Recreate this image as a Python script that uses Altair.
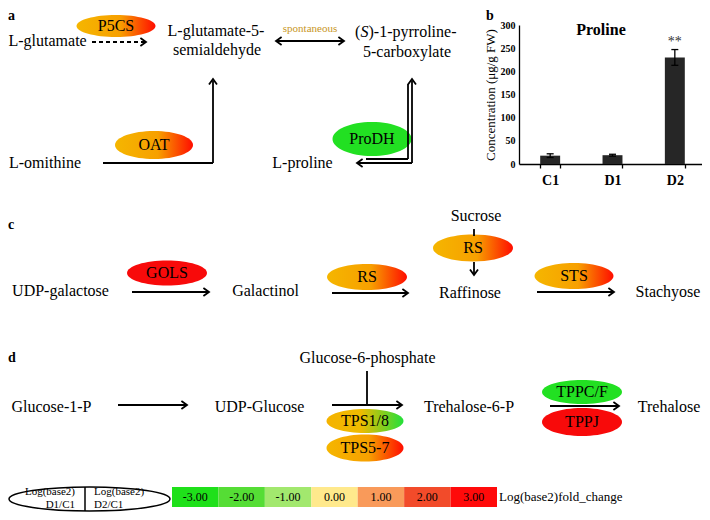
import altair as alt
import pandas as pd

FONT = "Liberation Serif"

# ---------------- panel b : proline content ----------------
groups = ["C1", "D1", "D2"]
proline = [18, 19, 230]
proline_err = [4, 2, 17]
signif = ["", "", "**"]

# ---------------- colour key ----------------
fold_values = ["-3.00", "-2.00", "-1.00", "0.00", "1.00", "2.00", "3.00"]
fold_colors = ["#1fe01a", "#55dd35", "#a2e86e", "#ffe98c", "#f99a5a", "#f24b2a", "#ff0a0a"]

# ---------------- diagram labels (text, x, y) ----------------
metabolites_c = [
    ("L-glutamate-5-", 216, 31), ("semialdehyde", 217, 50), ("5-carboxylate", 407, 52),
    ("L-proline", 302.5, 163), ("UDP-galactose", 60.5, 291), ("Galactinol", 265.5, 291),
    ("Sucrose", 476, 216), ("Raffinose", 470, 293), ("Stachyose", 668, 292),
    ("Glucose-1-P", 51.5, 407), ("UDP-Glucose", 259.5, 407), ("Glucose-6-phosphate", 367.5, 358),
    ("Trehalose-6-P", 469, 407), ("Trehalose", 669, 407),
]
metabolites_l = [("L-glutamate", 8.5, 41), ("L-omithine", 9, 163), ("(", 355, 31.5), (")-1-pyrroline-", 368.5, 31.5)]
italic_l = [("S", 360.5, 31.5)]
panel_letters = [("a", 8, 16), ("b", 486, 16), ("c", 8, 225), ("d", 8, 358)]

# enzymes: name, x, y, w, h, fill kind
enzymes = [
    ("P5CS", 116, 26, 79, 22, "OR"), ("OAT", 154, 145, 78, 28, "OR"), ("ProDH", 372, 139, 79, 34, "G"),
    ("GOLS", 167, 273, 80, 25, "R"), ("RS", 367, 277, 80, 26, "OR"), ("RS", 473, 248, 80, 27, "OR"),
    ("STS", 574, 276, 79, 26, "OR"), ("TPS1/8", 365, 421, 77, 24, "OG"), ("TPS5-7", 365, 448, 77, 27, "OR"),
    ("TPPC/F", 582, 392, 80, 24, "G"), ("TPPJ", 582, 422, 80, 28, "R"),
]

segments = [
    (103, 163, 213, 163), (213, 163, 213, 81), (276, 41, 344, 41),
    (358, 163, 412, 163), (412, 163, 412, 81), (366, 159, 408, 159), (408, 159, 408, 84),
    (132, 292, 208, 292), (332, 293, 407, 293), (474, 229, 474, 236), (474, 262, 474, 274),
    (537, 292, 613, 292), (118, 405, 186, 405), (332, 405, 401, 405), (367, 371, 367, 405),
    (550, 406, 618, 406),
]
dashed = [(92, 42, 145, 42)]
heads = [
    (146, 42, 0), (213, 79, 270), (276, 41, 180), (344, 41, 0), (357, 163, 180), (412, 79, 270),
    (209, 292, 0), (408, 293, 0), (474, 275, 90), (614, 292, 0), (187, 405, 0), (402, 405, 0),
    (619, 406, 0),
]


def ellipse_path(w, h):
    r = h / w
    k = 0.5523
    return (f"M 1 0 C 1 {k*r:.4f} {k:.4f} {r:.4f} 0 {r:.4f} "
            f"C {-k:.4f} {r:.4f} -1 {k*r:.4f} -1 0 "
            f"C -1 {-k*r:.4f} {-k:.4f} {-r:.4f} 0 {-r:.4f} "
            f"C {k:.4f} {-r:.4f} 1 {-k*r:.4f} 1 0 Z")


XS = alt.Scale(domain=[8, 702], nice=False, zero=False)
YS = alt.Scale(domain=[8, 512], nice=False, zero=False, reverse=True)


def px(f):
    return alt.X(f, type="quantitative", scale=XS, axis=None)


def py(f):
    return alt.Y(f, type="quantitative", scale=YS, axis=None)


def grad(stops):
    return alt.LinearGradient(gradient="linear", x1=0, x2=1, y1=0, y2=0,
                              stops=[alt.GradientStop(offset=o, color=c) for o, c in stops])


fills = {
    "OR": grad([(0, "#f5b600"), (0.55, "#f7a000"), (1, "#ff0d00")]),
    "OG": grad([(0, "#f5b300"), (0.45, "#eebb00"), (1, "#22e03a")]),
    "R": "#f80a0a",
    "G": "#22e022",
}

enz_df = pd.DataFrame(enzymes, columns=["name", "x", "y", "w", "h", "kind"])
enz_df["size"] = enz_df["w"] ** 2
enz_df["shape"] = [ellipse_path(w, h) for w, h in zip(enz_df["w"], enz_df["h"])]

layers = []
for kind, fill in fills.items():
    layers.append(
        alt.Chart(enz_df).transform_filter(alt.datum.kind == kind)
        .mark_point(filled=True, fill=fill, opacity=1, strokeWidth=0)
        .encode(x=px("x"), y=py("y"), shape=alt.Shape("shape:N", scale=None),
                size=alt.Size("size:Q", scale=None))
    )

seg_df = pd.DataFrame(segments, columns=["x1", "y1", "x2", "y2"])
dash_df = pd.DataFrame(dashed, columns=["x1", "y1", "x2", "y2"])
head_df = pd.DataFrame(heads, columns=["x", "y", "a"])

layers.append(alt.Chart(seg_df).mark_rule(color="black", strokeWidth=1.8)
              .encode(x=px("x1"), y=py("y1"), x2="x2:Q", y2="y2:Q"))
layers.append(alt.Chart(dash_df).mark_rule(color="black", strokeWidth=1.8, strokeDash=[4, 3])
              .encode(x=px("x1"), y=py("y1"), x2="x2:Q", y2="y2:Q"))
layers.append(alt.Chart(head_df).mark_point(filled=False, stroke="black", strokeWidth=1.8, opacity=1,
                                            shape="M -1.4 -1 L 0 0 L -1.4 1", size=64, strokeJoin="miter")
              .encode(x=px("x"), y=py("y"), angle=alt.Angle("a:Q", scale=None)))

# text tables
txt_c = [(t, x, y, 16, "black") for t, x, y in metabolites_c]
txt_c += [(n, x, y, 16, "black") for n, x, y, w, h, k in enzymes]
txt_c.append(("spontaneous", 310, 29, 11, "#c8961e"))
c_df = pd.DataFrame(txt_c, columns=["t", "x", "y", "s", "col"])
l_df = pd.DataFrame([(t, x, y, 16) for t, x, y in metabolites_l] +
                    [("Log(base2)", 94, 492, 11), ("D2/C1", 94, 505, 11),
                     ("Log(base2)fold_change", 499, 497, 13)], columns=["t", "x", "y", "s"])
r_df = pd.DataFrame([("Log(base2)", 75, 492, 11), ("D1/C1", 75, 505, 11)], columns=["t", "x", "y", "s"])
i_df = pd.DataFrame([(t, x, y, 16) for t, x, y in italic_l], columns=["t", "x", "y", "s"])
b_df = pd.DataFrame([(t, x, y, 14) for t, x, y in panel_letters], columns=["t", "x", "y", "s"])
bc_df = pd.DataFrame([("Proline", 601, 30, 16)], columns=["t", "x", "y", "s"])

layers.append(alt.Chart(c_df).mark_text(font=FONT, align="center", baseline="middle")
              .encode(x=px("x"), y=py("y"), text="t:N", size=alt.Size("s:Q", scale=None),
                      color=alt.Color("col:N", scale=None)))
layers.append(alt.Chart(l_df).mark_text(font=FONT, align="left", baseline="middle", color="black")
              .encode(x=px("x"), y=py("y"), text="t:N", size=alt.Size("s:Q", scale=None)))
layers.append(alt.Chart(r_df).mark_text(font=FONT, align="right", baseline="middle", color="black")
              .encode(x=px("x"), y=py("y"), text="t:N", size=alt.Size("s:Q", scale=None)))
layers.append(alt.Chart(i_df).mark_text(font=FONT, align="left", baseline="middle", fontStyle="italic", color="black")
              .encode(x=px("x"), y=py("y"), text="t:N", size=alt.Size("s:Q", scale=None)))
layers.append(alt.Chart(b_df).mark_text(font=FONT, align="left", baseline="middle", fontWeight="bold", color="black")
              .encode(x=px("x"), y=py("y"), text="t:N", size=alt.Size("s:Q", scale=None)))
layers.append(alt.Chart(bc_df).mark_text(font=FONT, align="center", baseline="middle", fontWeight="bold", color="black")
              .encode(x=px("x"), y=py("y"), text="t:N", size=alt.Size("s:Q", scale=None)))

# legend ellipse and divider
lell_df = pd.DataFrame({"x": [89.5], "y": [499], "size": [161 ** 2], "shape": [ellipse_path(161, 24)]})
layers.insert(0, alt.Chart(lell_df).mark_point(filled=False, stroke="black", strokeWidth=1.5, opacity=1)
              .encode(x=px("x"), y=py("y"), shape=alt.Shape("shape:N", scale=None),
                      size=alt.Size("size:Q", scale=None)))
div_df = pd.DataFrame({"x1": [85], "y1": [487], "x2": [85], "y2": [511]})
layers.append(alt.Chart(div_df).mark_rule(color="black", strokeWidth=1.5)
              .encode(x=px("x1"), y=py("y1"), x2="x2:Q", y2="y2:Q"))

diagram = alt.layer(*layers)

# ---------------- bar chart (panel b) ----------------
bar_df = pd.DataFrame({
    "g": groups, "v": proline,
    "lo": [v - e for v, e in zip(proline, proline_err)],
    "hi": [v + e for v, e in zip(proline, proline_err)],
    "sig": signif,
})
YTITLE = "Concentration (μg/g FW)"
xb_scale = alt.Scale(domain=groups, range=[511, 698], paddingInner=0.68, paddingOuter=0.34)
yb_scale = alt.Scale(domain=[0, 300], range=[156, 17], nice=False, zero=False)
xb = alt.X("g:N", sort=groups, scale=xb_scale, title=None,
           axis=alt.Axis(orient="bottom", offset=156 - 504, tickBand="extent", tickSize=4,
                         tickColor="black", domainColor="black", domainWidth=1.3, tickWidth=1.3,
                         labelFont=FONT, labelFontSize=14, labelFontWeight="bold", labelColor="black",
                         labelPadding=5, labelAngle=0, grid=False))
yb = alt.Y("v:Q", scale=yb_scale, title=YTITLE,
           axis=alt.Axis(orient="left", offset=-511, values=[0, 50, 100, 150, 200, 250, 300],
                         ticks=False, domainColor="black", domainWidth=1.3,
                         labelFont=FONT, labelFontSize=10, labelFontWeight="bold", labelColor="black",
                         labelPadding=4, grid=False, titleFont=FONT, titleFontSize=13,
                         titleFontWeight="normal", titleColor="black", titlePadding=3))
bars = alt.Chart(bar_df).mark_bar(color="#262626").encode(x=xb, y=yb)
xg = alt.X("g:N", sort=groups, title=None)
errs = alt.Chart(bar_df).mark_rule(color="black", strokeWidth=1.3).encode(
    x=xg, y=alt.Y("lo:Q", title=YTITLE), y2="hi:Q")
cap_lo = alt.Chart(bar_df).mark_tick(color="black", size=7, thickness=1.3, opacity=1).encode(
    x=xg, y=alt.Y("lo:Q", title=YTITLE))
cap_hi = alt.Chart(bar_df).mark_tick(color="black", size=7, thickness=1.3, opacity=1).encode(
    x=xg, y=alt.Y("hi:Q", title=YTITLE))
stars = alt.Chart(bar_df).mark_text(font=FONT, fontSize=14, dy=-8, color="#333333").encode(
    x=xg, y=alt.Y("hi:Q", title=YTITLE), text="sig:N")
bar_layer = alt.layer(bars, errs, cap_lo, cap_hi, stars)

# ---------------- colour key boxes ----------------
leg_df = pd.DataFrame({"v": fold_values, "c": fold_colors})
lx = alt.X("v:N", sort=fold_values, axis=None,
           scale=alt.Scale(domain=fold_values, range=[164, 489], paddingInner=0, paddingOuter=0))
cells = alt.Chart(leg_df).mark_rect().encode(x=lx, y=alt.value(479), y2=alt.value(499),
                                             color=alt.Color("c:N", scale=None))
cell_txt = alt.Chart(leg_df).mark_text(font=FONT, fontSize=12, color="black", baseline="middle").encode(
    x=lx, y=alt.value(489), text="v:N")
legend_layer = alt.layer(cells, cell_txt)

chart = (
    alt.layer(legend_layer, diagram, bar_layer)
    .resolve_scale(x="independent", y="independent")
    .properties(width=694, height=504, autosize=alt.AutoSizeParams(type="none"), padding=0)
    .configure_view(stroke=None)
)

chart.save("out.html", embed_options={"renderer": "svg", "actions": False})
